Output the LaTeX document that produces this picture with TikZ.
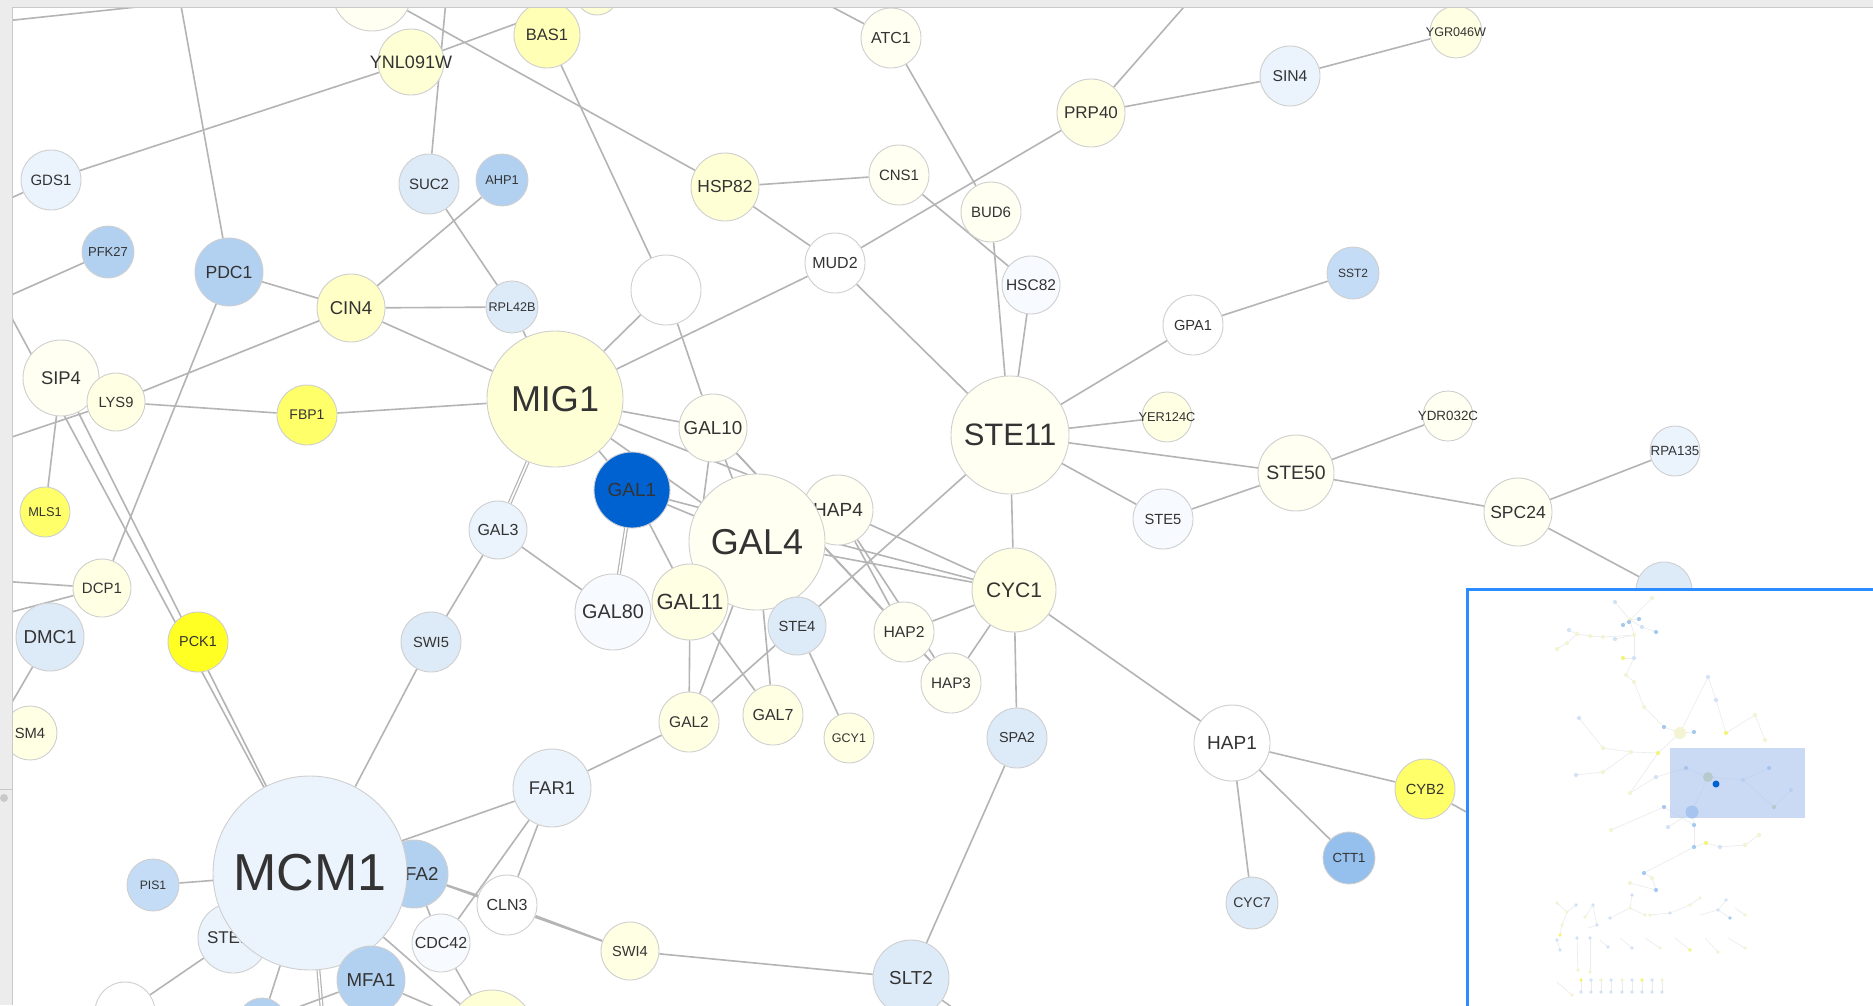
\documentclass[tikz,border=0pt]{standalone}
\usepackage{fontspec}
\setmainfont{Liberation Sans}
\usetikzlibrary{backgrounds}
\definecolor{edgegray}{HTML}{B4B4B4}
\definecolor{rimgray}{HTML}{CFCFCF}
\definecolor{labelgray}{HTML}{333333}
\definecolor{barfill}{HTML}{ECECEC}
\definecolor{barline}{HTML}{C9C9C9}
\definecolor{frameblue}{HTML}{2A8CFF}
\definecolor{viewblue}{HTML}{A8C2EE}
\definecolor{ywhite}{HTML}{FFFFF2}
\definecolor{ylight}{HTML}{FFFFE4}
\definecolor{ypale}{HTML}{FFFFD6}
\definecolor{ysoft}{HTML}{FFFFC6}
\definecolor{ymid}{HTML}{FFFFB6}
\definecolor{ybright}{HTML}{FFFF6A}
\definecolor{ystrong}{HTML}{FFFF24}
\definecolor{nwhite}{HTML}{FFFFFF}
\definecolor{bpale}{HTML}{F7FAFE}
\definecolor{bwhite}{HTML}{EBF3FC}
\definecolor{blight}{HTML}{DDEAF8}
\definecolor{bsoft}{HTML}{C4DCF5}
\definecolor{bmid}{HTML}{B2D1F1}
\definecolor{bdeep}{HTML}{95BFEC}
\definecolor{gblue}{HTML}{0062D1}
\definecolor{mY}{HTML}{F4F4D2}
\definecolor{mB}{HTML}{D2E3F7}
\definecolor{mD}{HTML}{A6C9F0}
\definecolor{mS}{HTML}{F4F47C}
\definecolor{mG}{HTML}{C8D89A}
\newcommand{\glab}[1]{\makebox[0pt]{#1}}

\begin{document}
\begin{tikzpicture}[x=1pt,y=-1pt,
  gene/.style={circle, draw=rimgray, line width=0.9pt, inner sep=0pt, text=labelgray, fill=#1},
  rad/.style={minimum size=#1*2pt},
  fs/.style={font=\fontsize{#1}{#1}\selectfont},
  link/.style={draw=edgegray, line width=1.6pt},
  dlink/.style={draw=edgegray, line width=1.2pt, double=white, double distance=1.6pt},
  mini/.style={draw=black!8, line width=0.6pt}]
  \useasboundingbox (0,0) rectangle (1873,1005);

  % nodes cut by the window edge
  \node[gene=ywhite, rad=40] (topA) at (372,-9) {};
  \node[gene=ypale, rad=21] (topB) at (597,-6) {};

  % upper left
  \node[gene=ypale, rad=33, fs=18] (YNL091W) at (411,62) {\glab{YNL091W}};
  \node[gene=ymid, rad=33, fs=16.5] (BAS1) at (547,35) {\glab{BAS1}};
  \node[gene=bwhite, rad=30, fs=15] (GDS1) at (51,180) {\glab{GDS1}};
  \node[gene=blight, rad=30, fs=15] (SUC2) at (429,184) {\glab{SUC2}};
  \node[gene=bmid, rad=26, fs=12.8] (AHP1) at (502,180) {\glab{AHP1}};
  \node[gene=bmid, rad=26, fs=13] (PFK27) at (108,252) {\glab{PFK27}};
  \node[gene=bmid, rad=34, fs=17.6] (PDC1) at (229,272) {\glab{PDC1}};
  \node[gene=ysoft, rad=34, fs=18.6] (CIN4) at (351,308) {\glab{CIN4}};
  \node[gene=blight, rad=26, fs=12.6] (RPL42B) at (512,307) {\glab{RPL42B}};

  % upper middle
  \node[gene=ypale, rad=34, fs=17.4] (HSP82) at (725,187) {\glab{HSP82}};
  \node[gene=ywhite, rad=30, fs=16] (ATC1) at (891,38) {\glab{ATC1}};
  \node[gene=ylight, rad=34, fs=17] (PRP40) at (1091,113) {\glab{PRP40}};
  \node[gene=ywhite, rad=30, fs=15] (CNS1) at (899,175) {\glab{CNS1}};
  \node[gene=ywhite, rad=30, fs=15] (BUD6) at (991,212) {\glab{BUD6}};
  \node[gene=nwhite, rad=30, fs=16] (MUD2) at (835,263) {\glab{MUD2}};
  \node[gene=bpale, rad=29, fs=15.5] (HSC82) at (1031,285) {\glab{HSC82}};
  \node[gene=nwhite, rad=30, fs=14.6] (GPA1) at (1193,325) {\glab{GPA1}};
  \node[gene=bwhite, rad=30, fs=15.7] (SIN4) at (1290,76) {\glab{SIN4}};
  \node[gene=ylight, rad=26, fs=12.6] (YGR046W) at (1456,32) {\glab{YGR046W}};
  \node[gene=bsoft, rad=26, fs=12] (SST2) at (1353,273) {\glab{SST2}};
  \node[gene=nwhite, rad=35] (anon) at (666,290) {};

  % left column
  \node[gene=ywhite, rad=38, fs=18.4] (SIP4) at (61,378) {\glab{SIP4}};
  \node[gene=ylight, rad=29, fs=14.7] (LYS9) at (116,402) {\glab{LYS9}};
  \node[gene=ybright, rad=30, fs=14] (FBP1) at (307,415) {\glab{FBP1}};
  \node[gene=ybright, rad=25, fs=12.8] (MLS1) at (45,512) {\glab{MLS1}};
  \node[gene=ylight, rad=29, fs=15] (DCP1) at (102,588) {\glab{DCP1}};
  \node[gene=blight, rad=34, fs=18.7] (DMC1) at (50,637) {\glab{DMC1}};
  \node[gene=ystrong, rad=30, fs=14.4] (PCK1) at (198,642) {\glab{PCK1}};
  \node[gene=ylight, rad=27, fs=14.8] (SM4) at (30,733) {\glab{SM4}};

  % galactose cluster
  \node[gene=ypale, rad=68, fs=36] (MIG1) at (555,399) {\glab{MIG1}};
  \node[gene=ywhite, rad=34, fs=18.8] (GAL10) at (713,428) {\glab{GAL10}};
  \node[gene=gblue, rad=38, fs=19] (GAL1) at (632,490) {\glab{GAL1}};
  \node[gene=bwhite, rad=29, fs=16] (GAL3) at (498,530) {\glab{GAL3}};
  \node[gene=blight, rad=30, fs=14.7] (SWI5) at (431,642) {\glab{SWI5}};
  \node[gene=bpale, rad=38, fs=19.8] (GAL80) at (613,612) {\glab{GAL80}};
  \node[gene=ywhite, rad=35, fs=19] (HAP4) at (838,510) {\glab{HAP4}};
  \node[gene=ywhite, rad=68, fs=36] (GAL4) at (757,542) {\glab{GAL4}};
  \node[gene=ylight, rad=38, fs=22] (GAL11) at (690,602) {\glab{GAL11}};
  \node[gene=blight, rad=29, fs=14.7] (STE4) at (797,626) {\glab{STE4}};
  \node[gene=ylight, rad=30, fs=15.5] (GAL2) at (689,722) {\glab{GAL2}};
  \node[gene=ylight, rad=30, fs=16] (GAL7) at (773,715) {\glab{GAL7}};
  \node[gene=ylight, rad=25, fs=12.5] (GCY1) at (849,738) {\glab{GCY1}};

  % STE11 side
  \node[gene=ywhite, rad=59, fs=31] (STE11) at (1010,435) {\glab{STE11}};
  \node[gene=ylight, rad=25, fs=12.8] (YER124C) at (1167,417) {\glab{YER124C}};
  \node[gene=bpale, rad=30, fs=14.7] (STE5) at (1163,519) {\glab{STE5}};
  \node[gene=ywhite, rad=38, fs=19.4] (STE50) at (1296,473) {\glab{STE50}};
  \node[gene=ywhite, rad=25, fs=13.4] (YDR032C) at (1448,416) {\glab{YDR032C}};
  \node[gene=ywhite, rad=34, fs=17.5] (SPC24) at (1518,512) {\glab{SPC24}};
  \node[gene=bwhite, rad=25, fs=13.3] (RPA135) at (1675,451) {\glab{RPA135}};
  \node[gene=blight, rad=28] (hidden) at (1664,590) {};
  \node[gene=ylight, rad=42, fs=21] (CYC1) at (1014,590) {\glab{CYC1}};
  \node[gene=ywhite, rad=30, fs=15.7] (HAP2) at (904,632) {\glab{HAP2}};
  \node[gene=ywhite, rad=30, fs=15.3] (HAP3) at (951,683) {\glab{HAP3}};
  \node[gene=blight, rad=30, fs=14.4] (SPA2) at (1017,738) {\glab{SPA2}};
  \node[gene=nwhite, rad=38, fs=19] (HAP1) at (1232,743) {\glab{HAP1}};
  \node[gene=ybright, rad=30, fs=14.7] (CYB2) at (1425,789) {\glab{CYB2}};
  \node[gene=bdeep, rad=26, fs=13.2] (CTT1) at (1349,858) {\glab{CTT1}};
  \node[gene=blight, rad=26, fs=14] (CYC7) at (1252,903) {\glab{CYC7}};

  % MCM1 side
  \node[gene=bmid, rad=34, fs=18.7] (MFA2) at (414,874) {\glab{MFA2}};
  \node[gene=bwhite, rad=35, fs=17] (STE12) at (233,938) {\glab{STE12}};
  \node[gene=bwhite, rad=97, fs=52] (MCM1) at (310,873) {\glab{MCM1}};
  \node[gene=bmid, rad=34, fs=18.7] (MFA1) at (371,980) {\glab{MFA1}};
  \node[gene=bsoft, rad=26, fs=12.2] (PIS1) at (153,885) {\glab{PIS1}};
  \node[gene=bwhite, rad=39, fs=18.4] (FAR1) at (552,788) {\glab{FAR1}};
  \node[gene=nwhite, rad=30, fs=16] (CLN3) at (507,905) {\glab{CLN3}};
  \node[gene=bpale, rad=29, fs=16] (CDC42) at (441,943) {\glab{CDC42}};
  \node[gene=ylight, rad=29, fs=14.6] (SWI4) at (630,951) {\glab{SWI4}};
  \node[gene=blight, rad=38, fs=18.8] (SLT2) at (911,978) {\glab{SLT2}};
  \node[gene=nwhite, rad=30] (botA) at (125,1012) {};
  \node[gene=bmid, rad=24] (botB) at (262,1022) {};
  \node[gene=ypale, rad=42] (botC) at (492,1032) {};

  % loose ends leaving the window
  \coordinate (cornerL) at (0,21.5);
  \coordinate (cornerT) at (203,0);
  \coordinate (suctop) at (446,0);
  \coordinate (pdctop) at (180,0);
  \coordinate (gdsleft) at (0,203);
  \coordinate (pfkleft) at (0,300);
  \coordinate (sipleft) at (0,296);
  \coordinate (lysleft) at (0,441);
  \coordinate (dcpleftA) at (0,581);
  \coordinate (dcpleftB) at (0,615);
  \coordinate (dmcleft) at (0,723);
  \coordinate (atctop) at (819,0);
  \coordinate (prptop) at (1190,0);
  \coordinate (sltbot) at (960,1013);
  \coordinate (cybright) at (1470,814);
  \coordinate (mcmbot) at (322,1012);
  \coordinate (mfabot) at (285,1012);

  \begin{scope}[on background layer]
    \fill[white] (0,0) rectangle (1873,1005);
    % top and left
    \draw[link] (cornerL) -- (cornerT);
    \draw[link] (GDS1) -- (YNL091W);
    \draw[link] (GDS1) -- (gdsleft);
    \draw[link] (YNL091W) -- (topB);
    \draw[link] (topA) -- (HSP82);
    \draw[link] (SUC2) -- (suctop);
    \draw[link] (PDC1) -- (pdctop);
    \draw[link] (PFK27) -- (pfkleft);
    \draw[link] (PDC1) -- (CIN4);
    \draw[link] (CIN4) -- (RPL42B);
    \draw[link] (CIN4) -- (AHP1);
    \draw[link] (SUC2) -- (RPL42B);
    \draw[link] (CIN4) -- (LYS9);
    \draw[link] (CIN4) -- (MIG1);
    \draw[link] (RPL42B) -- (MIG1);
    \draw[link] (PDC1) -- (DCP1);
    \draw[link] (BAS1) -- (anon);
    \draw[link] (anon) -- (MIG1);
    \draw[link] (anon) -- (GAL10);
    \draw[link] (MUD2) -- (MIG1);
    \draw[link] (HSP82) -- (MUD2);
    \draw[link] (HSP82) -- (CNS1);
    \draw[link] (CNS1) -- (HSC82);
    \draw[link] (ATC1) -- (BUD6);
    \draw[link] (ATC1) -- (atctop);
    \draw[link] (PRP40) -- (prptop);
    \draw[link] (PRP40) -- (SIN4);
    \draw[link] (PRP40) -- (MUD2);
    \draw[link] (SIN4) -- (YGR046W);
    % STE11 hub
    \draw[link] (BUD6) -- (STE11);
    \draw[link] (HSC82) -- (STE11);
    \draw[link] (MUD2) -- (STE11);
    \draw[link] (GPA1) -- (STE11);
    \draw[link] (GPA1) -- (SST2);
    \draw[link] (STE11) -- (YER124C);
    \draw[link] (STE11) -- (STE50);
    \draw[link] (STE11) -- (STE5);
    \draw[link] (STE5) -- (STE50);
    \draw[link] (STE50) -- (YDR032C);
    \draw[link] (STE50) -- (SPC24);
    \draw[link] (SPC24) -- (RPA135);
    \draw[link] (SPC24) -- (hidden);
    \draw[link] (STE11) -- (CYC1);
    \draw[link] (STE11) -- (STE4);
    % left column
    \draw[link] (sipleft) -- (MCM1);
    \draw[link] (SIP4) -- (MCM1);
    \draw[link] (SIP4) -- (MLS1);
    \draw[link] (LYS9) -- (lysleft);
    \draw[link] (LYS9) -- (FBP1);
    \draw[link] (FBP1) -- (MIG1);
    \draw[link] (DCP1) -- (dcpleftA);
    \draw[link] (DCP1) -- (dcpleftB);
    \draw[link] (DMC1) -- (dmcleft);
    % galactose cluster
    \draw[link] (MIG1) -- (GAL1);
    \draw[link] (MIG1) -- (GAL10);
    \draw[link] (MIG1) -- (GAL4);
    \draw[link] (MIG1) -- (HAP4);
    \draw[dlink] (MIG1) -- (GAL3);
    \draw[link] (GAL3) -- (GAL80);
    \draw[link] (GAL3) -- (SWI5);
    \draw[link] (SWI5) -- (MCM1);
    \draw[dlink] (GAL1) -- (GAL80);
    \draw[link] (GAL1) -- (GAL11);
    \draw[link] (GAL1) -- (GAL4);
    \draw[link] (GAL1) -- (CYC1);
    \draw[link] (GAL10) -- (GAL4);
    \draw[link] (GAL10) -- (GAL11);
    \draw[link] (GAL10) -- (HAP2);
    \draw[link] (GAL10) -- (HAP3);
    \draw[link] (HAP4) -- (CYC1);
    \draw[link] (GAL4) -- (CYC1);
    \draw[link] (HAP4) -- (HAP2);
    \draw[link] (HAP4) -- (HAP3);
    \draw[link] (HAP2) -- (CYC1);
    \draw[link] (HAP2) -- (HAP3);
    \draw[link] (CYC1) -- (HAP3);
    \draw[link] (CYC1) -- (SPA2);
    \draw[link] (CYC1) -- (HAP1);
    \draw[link] (STE4) -- (GCY1);
    \draw[link] (GAL4) -- (GAL7);
    \draw[link] (GAL11) -- (GAL7);
    \draw[link] (GAL11) -- (GAL2);
    \draw[link] (GAL4) -- (GAL2);
    \draw[link] (STE4) -- (GAL2);
    \draw[link] (FAR1) -- (GAL2);
    % lower part
    \draw[link] (SPA2) -- (SLT2);
    \draw[link] (SWI4) -- (SLT2);
    \draw[link] (SLT2) -- (sltbot);
    \draw[link] (HAP1) -- (CYB2);
    \draw[link] (HAP1) -- (CTT1);
    \draw[link] (HAP1) -- (CYC7);
    \draw[link] (CYB2) -- (cybright);
    \draw[link] (PIS1) -- (MCM1);
    \draw[link] (FAR1) -- (MCM1);
    \draw[link] (FAR1) -- (CLN3);
    \draw[link] (FAR1) -- (CDC42);
    \draw[link] (MFA2) -- (CLN3);
    \draw[link] (MFA2) -- (SWI4);
    \draw[link] (MFA2) -- (CDC42);
    \draw[link] (CLN3) -- (SWI4);
    \draw[link] (CDC42) -- (botC);
    \draw[link] (MCM1) -- (botC);
    \draw[link] (MFA1) -- (botC);
    \draw[dlink] (MCM1) -- (mcmbot);
    \draw[link] (MCM1) -- (botB);
    \draw[link] (MFA1) -- (mfabot);
    \draw[link] (STE12) -- (botA);
  \end{scope}

  % overview panel
  \fill[white] (1467,589) rectangle (1873,1005);
  \def\ovpts{a/1615/602/mB, b/1652/598/mY, c/1630/620/mY, d/1623/625/mD, e/1629/622/mD,
    f/1639/619/mD, g/1642/627/mB, h/1656/632/mD, i/1634/635/mY, j/1615/639/mB,
    k/1603/637/mY, l/1590/636/mY, m/1577/634/mY, n/1567/643/mY, o/1557/649/mY,
    p/1569/630/mB, q/1623/658/mS, r/1634/658/mB, s/1634/682/mY, t/1626/675/mY,
    u/1644/707/mY, v/1680/733/mY, w/1664/727/mD, x/1694/732/mD, y/1708/677/mB,
    z/1716/700/mB, aa/1726/733/mS, ab/1755/715/mY, ac/1765/740/mY, ad/1658/753/mS,
    ae/1631/752/mY, af/1603/748/mY, ag/1579/718/mB, ah/1576/775/mB, ai/1603/772/mY,
    aj/1630/793/mY, ak/1656/777/mB, al/1708/777/mG, an/1692/812/mD, ao/1686/768/mD,
    ap/1743/780/mB, aq/1774/807/mG, ar/1769/768/mD, as/1791/790/mB, at/1694/825/mD,
    au/1694/847/mD, av/1706/843/mS, aw/1664/807/mD, ax/1611/830/mY, ay/1644/873/mD,
    az/1652/878/mY, ba/1656/890/mD, bb/1630/883/mY, bc/1745/845/mY, bd/1759/835/mY,
    be/1720/847/mB, bf/1668/827/mB}
  \foreach \n/\x/\y/\c in \ovpts {\coordinate (ov\n) at (\x,\y);}
  \foreach \s/\t in {c/a, c/b, c/d, c/e, c/f, c/g, g/h, c/i, i/j, i/k, k/l, l/m, m/p, m/n, n/o,
    i/r, r/q, r/t, t/s, s/u, u/w, w/v, v/x, v/y, y/z, z/aa, aa/ab, ab/ac, v/ad, ad/ae,
    ae/af, af/ag, ae/ai, ai/ah, ad/aj, aj/ak, ak/ao, ao/al, al/an, al/ap, ap/ar, ap/aq,
    aq/as, an/at, at/au, au/av, at/aw, aw/ax, au/ay, ay/az, az/ba, ba/bb, av/be, be/bc,
    bc/bd, an/bf}
    \draw[mini] (ov\s) -- (ov\t);
  \draw[mini] (1557,903) -- (1567,912) -- (1562,925) -- (1560,935) (1567,912) -- (1576,905);
  \draw[mini] (1585,917) -- (1593,905) -- (1597,925) -- (1588,928);
  \draw[mini] (1610,918) -- (1630,908) -- (1632,895) (1630,908) -- (1645,915);
  \draw[mini] (1650,915) -- (1670,913) -- (1690,905) -- (1700,898);
  \draw[mini] (1700,915) -- (1718,910) -- (1726,900) (1718,910) -- (1730,918);
  \draw[mini] (1735,908) -- (1745,915);
  \foreach \x/\y/\u/\v in {1557/940/1560/950, 1577/938/1578/970, 1590/938/1590/972,
    1600/940/1608/947, 1620/938/1632/948, 1645/938/1660/948, 1675/938/1690/950,
    1705/938/1718/952, 1728/938/1745/948, 1557/982/1572/995}
    \draw[mini] (\x,\y) -- (\u,\v);
  \foreach \x in {1581,1591,1601,1611,1622,1632,1642,1652,1662}
    \draw[mini] (\x,980) -- (\x,992);
  \foreach \n/\x/\y/\c in \ovpts {\fill[\c] (\x,\y) circle (2.1pt);}
  \foreach \x/\y/\c in {1557/903/mY, 1567/912/mY, 1562/925/mY, 1560/935/mS, 1576/905/mB,
    1585/917/mY, 1593/905/mB, 1597/925/mB, 1610/918/mB, 1630/908/mY, 1632/895/mB,
    1645/915/mY, 1650/915/mY, 1670/913/mB, 1690/905/mY, 1700/898/mY, 1718/910/mB,
    1726/900/mB, 1730/918/mD, 1745/915/mY, 1557/940/mB, 1560/950/mB, 1577/938/mB,
    1578/970/mY, 1590/938/mB, 1590/972/mY, 1608/947/mB, 1632/948/mB, 1660/948/mY,
    1690/950/mS, 1718/952/mY, 1745/948/mY, 1572/995/mY}
    \fill[\c] (\x,\y) circle (1.9pt);
  \foreach \x/\c in {1581/mS,1591/mB,1601/mY,1611/mB,1622/mY,1632/mB,1642/mS,1652/mB,1662/mY}
    {\fill[\c] (\x,980) circle (1.9pt); \fill[mB] (\x,992) circle (1.9pt);}
  \fill[mY] (ovv) circle (6pt);
  \fill[mG] (oval) circle (5pt);
  \fill[mD] (ovan) circle (6.5pt);
  \fill[viewblue, opacity=0.6] (1670,748) rectangle (1805,818);
  \fill[gblue] (1716,784) circle (3.5pt);
  \draw[frameblue, line width=3pt] (1467,589) rectangle (1885,1015);

  % window chrome
  \fill[barfill] (0,0) rectangle (1873,7);
  \draw[barline, line width=1pt] (0,7.5) -- (1873,7.5);
  \fill[barfill] (0,7) rectangle (12,1005);
  \draw[barline, line width=1pt] (12.5,7.5) -- (12.5,1005);
  \draw[barline, line width=1pt] (0,789) -- (12,789);
  \fill[barline] (4,798) circle (4pt);
\end{tikzpicture}
\end{document}
